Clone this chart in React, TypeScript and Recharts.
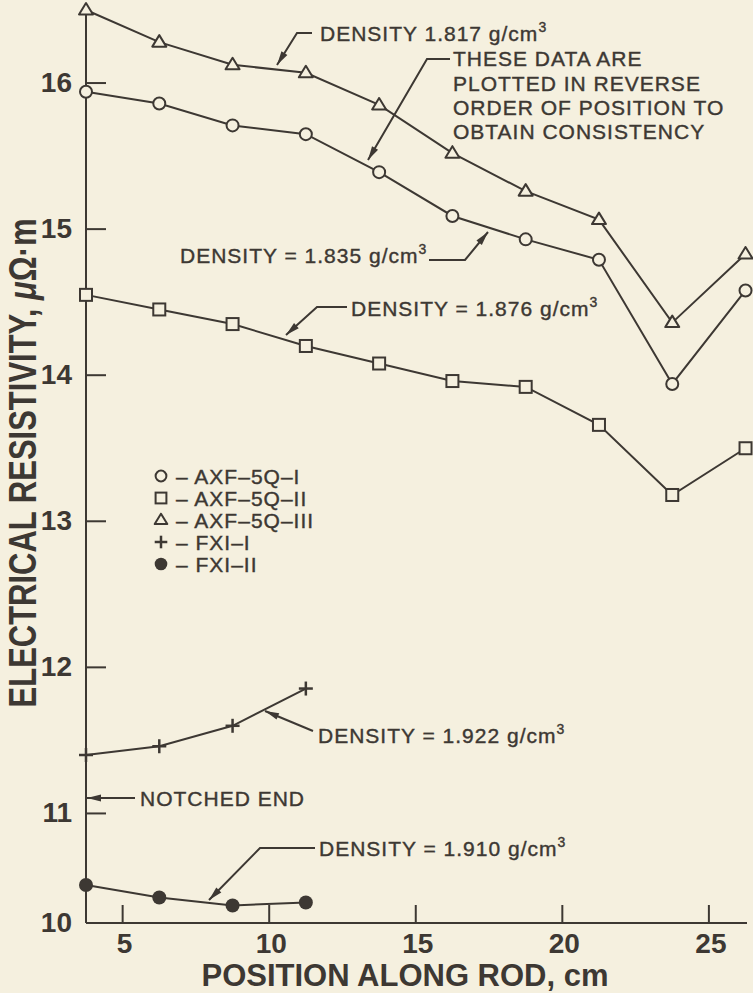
import { LineChart, Line, XAxis, YAxis, Legend } from 'recharts'

const BG = '#f5f0df'
const INK = '#3d3833'
const FONT = '"Liberation Sans", Arial, Helvetica, sans-serif'

// rod positions, cm (every 2.5 cm from the notched end)
const positions = [3.75, 6.25, 8.75, 11.25, 13.75, 16.25, 18.75, 21.25, 23.75, 26.25]
const fxiPositions = [3.75, 6.25, 8.75, 11.25]

// resistivity, µΩ·m
const axf5qI = [15.94, 15.86, 15.71, 15.65, 15.39, 15.09, 14.93, 14.79, 13.94, 14.58]
const axf5qII = [14.55, 14.45, 14.35, 14.2, 14.08, 13.96, 13.92, 13.66, 13.18, 13.5]
const axf5qIII = [16.5, 16.28, 16.125, 16.07, 15.85, 15.52, 15.26, 15.065, 14.36, 14.83]
const fxiI = [11.4, 11.46, 11.6, 11.855]
const fxiII = [10.51, 10.425, 10.37, 10.39]

const xTicks = [5, 10, 15, 20, 25]
// the bottom edge of the plot carries the "10" label (broken axis in the original)
const yTicks = [10.25, 11, 12, 13, 14, 15, 16]
const rightTicks = [11, 12, 13, 14, 15, 16]

type Kind = 'circle' | 'square' | 'triangle' | 'plus' | 'dot'

const series: { name: string; kind: Kind; pos: number[]; values: number[] }[] = [
  { name: 'AXF–5Q–I', kind: 'circle', pos: positions, values: axf5qI },
  { name: 'AXF–5Q–II', kind: 'square', pos: positions, values: axf5qII },
  { name: 'AXF–5Q–III', kind: 'triangle', pos: positions, values: axf5qIII },
  { name: 'FXI–I', kind: 'plus', pos: fxiPositions, values: fxiI },
  { name: 'FXI–II', kind: 'dot', pos: fxiPositions, values: fxiII },
]

// regular text in the original is a fairly heavy Helvetica, so give it a thin outline
const noteStyle = { fontSize: 21, letterSpacing: 1, fill: INK, stroke: INK, strokeWidth: 0.4, fontFamily: FONT }

function Marker({ kind, cx, cy, s = 1 }: { kind: Kind; cx: number; cy: number; s?: number }) {
  if (cx == null || cy == null) return null
  switch (kind) {
    case 'circle':
      return <circle cx={cx} cy={cy} r={6 * s} fill={BG} stroke={INK} strokeWidth={2} />
    case 'square':
      return <rect x={cx - 6 * s} y={cy - 6 * s} width={12 * s} height={12 * s} fill={BG} stroke={INK} strokeWidth={2} />
    case 'triangle':
      return (
        <polygon
          points={`${cx},${cy - 7 * s} ${cx - 7 * s},${cy + 4.5 * s} ${cx + 7 * s},${cy + 4.5 * s}`}
          fill={BG}
          stroke={INK}
          strokeWidth={2}
          strokeLinejoin="round"
        />
      )
    case 'plus':
      return (
        <g stroke={INK} strokeWidth={2.5}>
          <line x1={cx - 7 * s} y1={cy} x2={cx + 7 * s} y2={cy} />
          <line x1={cx} y1={cy - 7 * s} x2={cx} y2={cy + 7 * s} />
        </g>
      )
    default:
      return <circle cx={cx} cy={cy} r={7 * s} fill={INK} />
  }
}

function LeftTick({ x, y, payload }: any) {
  const v = payload.value
  return (
    <g>
      {v > 10.5 && <line x1={x} y1={y} x2={x + 20} y2={y} stroke={INK} strokeWidth={2} />}
      <text x={x - 14} y={y + 9} textAnchor="end" fontSize={28} fontWeight="bold" fill={INK} fontFamily={FONT}>
        {Math.floor(v)}
      </text>
    </g>
  )
}

function RightTick({ x, y }: any) {
  return <line x1={x} y1={y} x2={x - 20} y2={y} stroke={INK} strokeWidth={2} />
}

function BottomTick({ x, y, payload }: any) {
  return (
    <g>
      <line x1={x} y1={y} x2={x} y2={y - 18} stroke={INK} strokeWidth={2} />
      <text x={x + 2} y={y + 30} textAnchor="middle" fontSize={28} fontWeight="bold" fill={INK} fontFamily={FONT}>
        {payload.value}
      </text>
    </g>
  )
}

function LegendBox() {
  return (
    <svg width={200} height={120}>
      {series.map((s, i) => (
        <g key={s.name}>
          <Marker kind={s.kind} cx={10} cy={14 + i * 22} s={0.9} />
          <text x={25} y={22 + i * 22} {...noteStyle}>
            – {s.name}
          </text>
        </g>
      ))}
    </svg>
  )
}

function Arrow({ pts }: { pts: [number, number][] }) {
  const [tx, ty] = pts[pts.length - 1]
  const [px, py] = pts[pts.length - 2]
  const a = Math.atan2(ty - py, tx - px)
  const len = 14
  const w = 3.5
  const bx = tx - len * Math.cos(a)
  const by = ty - len * Math.sin(a)
  const nx = -Math.sin(a) * w
  const ny = Math.cos(a) * w
  return (
    <g>
      <polyline points={pts.map((p) => p.join(',')).join(' ')} fill="none" stroke={INK} strokeWidth={2} />
      <polygon points={`${tx},${ty} ${bx + nx},${by + ny} ${bx - nx},${by - ny}`} fill={INK} />
    </g>
  )
}

function Note({ x, y, text, sup }: { x: number; y: number; text: string; sup?: string }) {
  return (
    <text x={x} y={y} {...noteStyle}>
      {text}
      {sup && (
        <tspan fontSize={14} dy={-9}>
          {sup}
        </tspan>
      )}
    </text>
  )
}

function Annotations() {
  return (
    <svg width={753} height={993} style={{ position: 'absolute', left: 0, top: 0, pointerEvents: 'none' }}>
      <Note x={320} y={40.5} text="DENSITY 1.817 g/cm" sup="3" />
      <Arrow pts={[[312, 33], [297, 33], [277, 65]]} />

      <Note x={453} y={66} text="THESE DATA ARE" />
      <Note x={453} y={90.5} text="PLOTTED IN REVERSE" />
      <Note x={453} y={115} text="ORDER OF POSITION TO" />
      <Note x={453} y={139} text="OBTAIN CONSISTENCY" />
      <Arrow pts={[[450, 59], [427, 59], [368, 160]]} />

      <Note x={180} y={263} text="DENSITY = 1.835 g/cm" sup="3" />
      <Arrow pts={[[429, 260], [465, 260], [488, 232]]} />

      <Note x={351} y={315.5} text="DENSITY = 1.876 g/cm" sup="3" />
      <Arrow pts={[[347, 307], [317, 307], [286, 335]]} />

      <Note x={318} y={743} text="DENSITY = 1.922 g/cm" sup="3" />
      <Arrow pts={[[313, 731], [265, 711]]} />

      <Note x={140} y={805.5} text="NOTCHED END" />
      <Arrow pts={[[135, 798], [87, 798]]} />

      <Note x={319} y={855.5} text="DENSITY = 1.910 g/cm" sup="3" />
      <Arrow pts={[[315, 848], [260, 848], [209, 900]]} />

      <text
        transform="translate(22.5 463) rotate(-90) scale(1 1.25)"
        y={11}
        textAnchor="middle"
        fontSize={31}
        fontWeight="bold"
        fill={INK}
        fontFamily={FONT}
      >
        ELECTRICAL RESISTIVITY, <tspan fontStyle="italic">μ</tspan>Ω·m
      </text>
      <text x={405} y={986} textAnchor="middle" fontSize={31} fontWeight="bold" fill={INK} fontFamily={FONT}>
        POSITION ALONG ROD, cm
      </text>
    </svg>
  )
}

export default function App() {
  return (
    <div style={{ position: 'absolute', left: 0, top: 0, width: 753, height: 993, background: BG }}>
      <LineChart width={753} height={993} margin={{ top: 10, right: 6, bottom: 0, left: 0 }}>
        <XAxis
          xAxisId="b"
          type="number"
          dataKey="pos"
          domain={[3.75, 26.3]}
          ticks={xTicks}
          interval={0}
          height={70}
          tickSize={0}
          tickMargin={0}
          tickLine={false}
          tick={<BottomTick />}
          axisLine={{ stroke: INK, strokeWidth: 2 }}
        />
        <XAxis
          xAxisId="t"
          orientation="top"
          type="number"
          dataKey="pos"
          domain={[3.75, 26.3]}
          height={0}
          tick={false}
          tickLine={false}
          axisLine={{ stroke: INK, strokeWidth: 2 }}
        />
        <YAxis
          yAxisId="l"
          type="number"
          domain={[10.25, 16.5]}
          ticks={yTicks}
          interval={0}
          width={86}
          tickSize={0}
          tickMargin={0}
          tickLine={false}
          tick={<LeftTick />}
          axisLine={{ stroke: INK, strokeWidth: 2 }}
        />
        <YAxis
          yAxisId="r"
          orientation="right"
          type="number"
          domain={[10.25, 16.5]}
          ticks={rightTicks}
          interval={0}
          width={0}
          tickSize={0}
          tickMargin={0}
          tickLine={false}
          tick={<RightTick />}
          axisLine={{ stroke: INK, strokeWidth: 2 }}
        />
        {series.map((s) => (
          <Line
            key={s.name}
            xAxisId="b"
            yAxisId="l"
            name={s.name}
            data={s.pos.map((p, i) => ({ pos: p, value: s.values[i] }))}
            dataKey="value"
            type="linear"
            stroke={INK}
            strokeWidth={2}
            isAnimationActive={false}
            dot={(p: any) => <Marker key={`${s.name}-${p.index}`} kind={s.kind} cx={p.cx} cy={p.cy} />}
            activeDot={false}
          />
        ))}
        <Legend
          layout="vertical"
          align="center"
          verticalAlign="middle"
          content={<LegendBox />}
          wrapperStyle={{ position: 'absolute', left: 151, top: 462, width: 200, height: 120 }}
        />
      </LineChart>
      <Annotations />
    </div>
  )
}
